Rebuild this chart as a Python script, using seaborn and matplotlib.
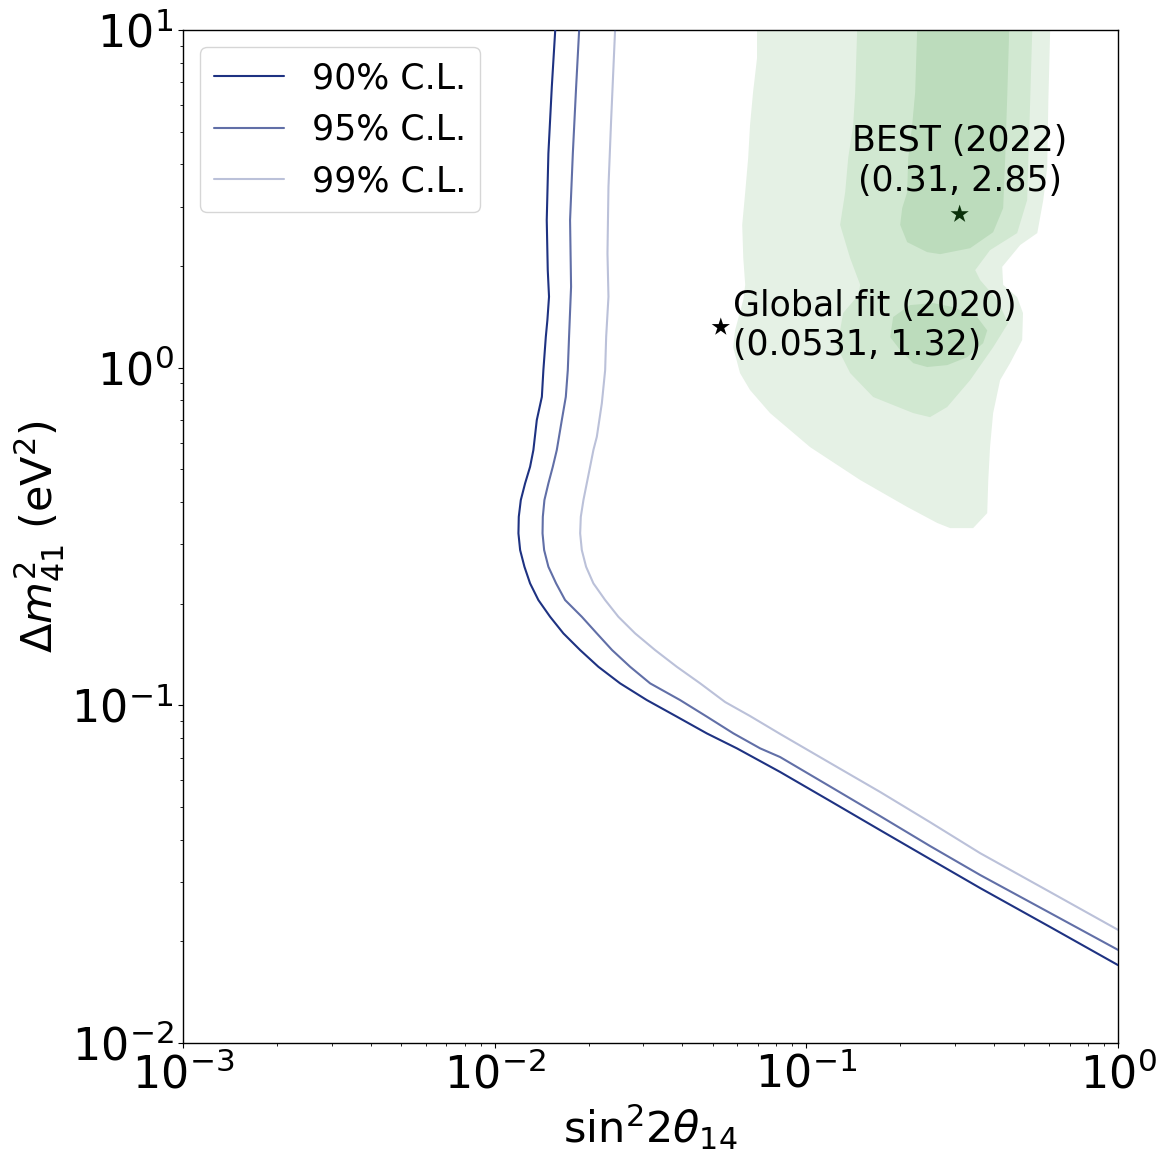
import matplotlib
matplotlib.use("Agg")
import matplotlib.pyplot as plt
import seaborn as sns
import pandas as pd

# ---------------- data ----------------
# Exclusion contours (sin^2 2theta14, dm^2_41 [eV^2])
cl90_x = [0.01563, 0.01524, 0.01486, 0.01468, 0.01479, 0.01493, 0.01475, 0.01458, 0.01432,
          0.01416, 0.01364, 0.01330, 0.01298, 0.01251, 0.01212, 0.01194, 0.01191, 0.01206,
          0.01245, 0.01298, 0.0138, 0.01505, 0.0166, 0.01879, 0.0215, 0.02524, 0.03074,
          0.03837, 0.0479, 0.0598, 0.0823, 0.1191, 0.1723, 0.249, 0.3607, 0.605, 1.0]
cl90_y = [10.0, 6.795, 4.313, 2.737, 1.946, 1.623, 1.384, 1.235, 0.984,
          0.820, 0.700, 0.5704, 0.5089, 0.4545, 0.4056, 0.3619, 0.3232, 0.2884,
          0.2574, 0.2298, 0.2051, 0.1830, 0.1634, 0.1458, 0.1301, 0.1162, 0.1037,
          0.0926, 0.0826, 0.0746, 0.0635, 0.0521, 0.0427, 0.03506, 0.02877, 0.02206, 0.0170]

cl95_x = [0.01865, 0.01824, 0.01780, 0.01744, 0.01757, 0.01731, 0.01715, 0.0169, 0.01641,
          0.01581, 0.01535, 0.01486, 0.01443, 0.01426, 0.01423, 0.0144, 0.01486, 0.01573,
          0.01681, 0.01902, 0.02125, 0.02379, 0.02718, 0.03151, 0.0393, 0.0479, 0.0583,
          0.0710, 0.0823, 0.1191, 0.1723, 0.249, 0.3607, 0.605, 1.0]
cl95_y = [10.0, 6.795, 4.313, 2.737, 1.737, 1.235, 0.984, 0.820, 0.700,
          0.5704, 0.5089, 0.4545, 0.4056, 0.3619, 0.3232, 0.2884, 0.2574, 0.2298,
          0.2051, 0.1830, 0.1634, 0.1458, 0.1301, 0.1162, 0.1037, 0.0926, 0.0826,
          0.0746, 0.0703, 0.0575, 0.0470, 0.03833, 0.03145, 0.02427, 0.01886]

cl99_x = [0.02432, 0.02362, 0.02316, 0.02299, 0.02316, 0.02277, 0.0226, 0.02205, 0.02125,
          0.02072, 0.02022, 0.01973, 0.01925, 0.01888, 0.01879, 0.01902, 0.01963, 0.02072,
          0.0226, 0.02492, 0.0282, 0.03269, 0.03837, 0.0456, 0.05483, 0.0659, 0.0823,
          0.1191, 0.1723, 0.249, 0.3607, 0.605, 1.0]
cl99_y = [10.0, 5.41, 3.435, 2.182, 1.623, 1.235, 0.984, 0.784, 0.6244,
          0.5704, 0.5089, 0.4545, 0.4056, 0.3619, 0.3232, 0.2884, 0.2574, 0.2298,
          0.2051, 0.1830, 0.1634, 0.1458, 0.1301, 0.1162, 0.1023, 0.0930, 0.0823,
          0.0675, 0.0554, 0.0451, 0.0365, 0.0280, 0.02162]

cl_labels = ["90% C.L.", "95% C.L.", "99% C.L."]

# BEST allowed regions (outer, middle, inner)
best_outer_x = [0.0694, 0.0694, 0.0674, 0.0659, 0.0650, 0.0636, 0.0622, 0.0627, 0.0636, 0.0627,
                0.0590, 0.0582, 0.0612, 0.0659, 0.0764, 0.1027, 0.1487, 0.2104, 0.2626, 0.289,
                0.3425, 0.380, 0.383, 0.388, 0.397, 0.418, 0.450, 0.492, 0.495, 0.474,
                0.4275, 0.4245, 0.485, 0.550, 0.575, 0.592, 0.597, 0.605]
best_outer_y = [10.0, 8.26, 6.55, 5.23, 4.18, 3.31, 2.65, 2.11, 1.76, 1.59,
                1.29, 1.15, 0.964, 0.859, 0.734, 0.582, 0.465, 0.387, 0.347, 0.335,
                0.335, 0.371, 0.465, 0.582, 0.734, 0.919, 1.032, 1.208, 1.452, 1.619,
                1.76, 1.99, 2.31, 2.505, 3.14, 3.93, 6.20, 10.0]

best_mid_x = [0.1454, 0.1433, 0.1412, 0.1361, 0.1331, 0.1282, 0.1381, 0.1487, 0.1466, 0.1311,
              0.1254, 0.1381, 0.1637, 0.220, 0.249, 0.2827, 0.335, 0.397, 0.4437, 0.409,
              0.3607, 0.3477, 0.388, 0.474, 0.5105, 0.514, 0.522, 0.530]
best_mid_y = [10.0, 6.55, 5.23, 4.18, 3.31, 2.65, 2.11, 1.76, 1.64, 1.452,
              1.15, 0.964, 0.819, 0.734, 0.714, 0.765, 0.919, 1.15, 1.356, 1.59,
              1.818, 1.946, 2.23, 2.505, 3.14, 3.93, 6.20, 10.0]

best_in1_x = [0.2265, 0.2232, 0.2183, 0.212, 0.2104, 0.2028, 0.1998, 0.2104, 0.2439, 0.2685,
              0.335, 0.397, 0.4275, 0.434, 0.441, 0.447]
best_in1_y = [10.0, 6.55, 5.23, 4.18, 3.31, 2.97, 2.65, 2.355, 2.20, 2.17,
              2.26, 2.52, 2.97, 4.18, 6.55, 10.0]

best_in2_x = [0.1897, 0.215, 0.2549, 0.2955, 0.3528, 0.380, 0.3688, 0.3278, 0.2827, 0.2439,
              0.220, 0.1998, 0.1856]
best_in2_y = [1.413, 1.533, 1.554, 1.512, 1.413, 1.29, 1.183, 1.075, 1.018, 1.005,
              1.032, 1.128, 1.233]

best_fit = (0.31, 2.85)
global_fit = (0.0531, 1.32)
best_label = "BEST (2022)\n(0.31, 2.85)"
global_label = "Global fit (2020)\n(0.0531, 1.32)"

# ---------------- style ----------------
sns.set_theme(style="ticks")
plt.rcParams.update({
    "font.family": ["DejaVu Sans"],
    "mathtext.fontset": "dejavusans",
    "axes.edgecolor": "black",
    "axes.linewidth": 1.0,
    "xtick.major.size": 3.5, "ytick.major.size": 3.5,
    "xtick.minor.size": 2.0, "ytick.minor.size": 2.0,
    "xtick.major.width": 0.8, "ytick.major.width": 0.8,
    "xtick.minor.width": 0.6, "ytick.minor.width": 0.6,
    "xtick.color": "black", "ytick.color": "black",
    "text.color": "black", "axes.labelcolor": "black",
})

fig, ax = plt.subplots(figsize=(11.66, 11.58), dpi=100)
fig.subplots_adjust(left=0.157, right=0.959, bottom=0.0993, top=0.974)

green_cols = ["#e5f1e5", "#d1e8d1", "#bcdcbc"]
ax.fill(best_outer_x, best_outer_y, color=green_cols[0], lw=0, zorder=1)
ax.fill(best_mid_x, best_mid_y, color=green_cols[1], lw=0, zorder=1.1)
ax.fill(best_in1_x, best_in1_y, color=green_cols[2], lw=0, zorder=1.2)
ax.fill(best_in2_x, best_in2_y, color=green_cols[2], lw=0, zorder=1.2)

line_col = "#1e3282"
for xs, ys, lab, a in zip([cl90_x, cl95_x, cl99_x], [cl90_y, cl95_y, cl99_y],
                          cl_labels, [1.0, 0.7, 0.3]):
    df = pd.DataFrame({"x": xs, "y": ys})
    sns.lineplot(data=df, x="x", y="y", sort=False, estimator=None, ax=ax,
                 color=line_col, alpha=a, lw=1.5, label=lab, zorder=3)

sns.scatterplot(x=[best_fit[0]], y=[best_fit[1]], marker="*", s=190, color="#0a300a",
                edgecolor="none", ax=ax, zorder=4, legend=False)
sns.scatterplot(x=[global_fit[0]], y=[global_fit[1]], marker="*", s=190, color="black",
                edgecolor="none", ax=ax, zorder=4, legend=False)

ax.annotate(best_label, xy=best_fit, xytext=(0, 12), textcoords="offset points",
            ha="center", va="bottom", multialignment="center", fontsize=25)
ax.annotate(global_label, xy=global_fit, xytext=(9, 1), textcoords="offset points",
            ha="left", va="center", multialignment="left", fontsize=25)

ax.set_xscale("log")
ax.set_yscale("log")
ax.set_xlim(1e-3, 1)
ax.set_ylim(1e-2, 10)
ax.set_xlabel(r"sin$^2 2\theta_{14}$", fontsize=31)
ax.set_ylabel(r"$\Delta m^2_{41}$ (eV$^2$)", fontsize=31)
ax.tick_params(axis="both", which="major", labelsize=32)
for s in ["top", "right"]:
    ax.spines[s].set_visible(True)

leg = ax.legend(loc="upper left", fontsize=25, frameon=True, labelspacing=0.5)
leg.get_frame().set_edgecolor("#cccccc")

fig.savefig("out.png", dpi=100)
